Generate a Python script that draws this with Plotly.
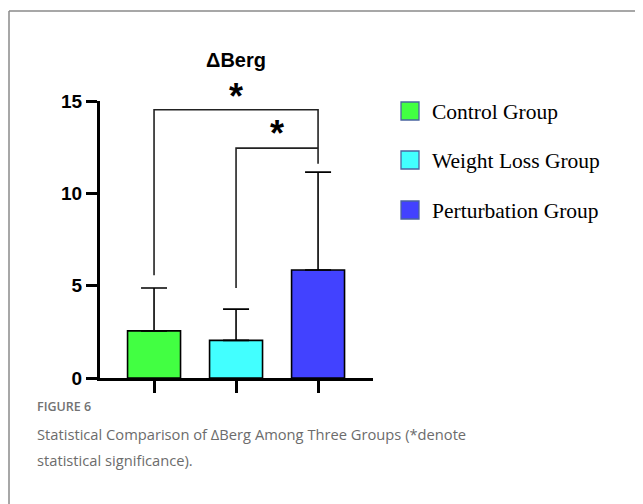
import plotly.graph_objects as go

# ---- data ----
groups = ["Control Group", "Weight Loss Group", "Perturbation Group"]
means = [2.55, 2.04, 5.85]
sd_upper = [2.32, 1.69, 5.30]
colors = ["#42FF42", "#42FFFF", "#4242FF"]
y_ticks = [0, 5, 10, 15]
title_text = "ΔBerg"
caption_label = "FIGURE 6"
caption_lines = ["Statistical Comparison of ΔBerg Among Three Groups (*denote",
                 "statistical significance)."]

W, H = 643, 504
OFF = 8  # page body margin offset
def px(x): return (x - OFF) / W
def py(y): return 1 - (y - OFF) / H

x_pos = list(range(len(groups)))

fig = go.Figure()
fig.add_trace(go.Bar(
    x=x_pos, y=means, width=0.646,
    marker=dict(color=colors, line=dict(color="black", width=1.6)),
    error_y=dict(type="data", symmetric=False, array=sd_upper,
                 arrayminus=[0] * len(means), color="black",
                 thickness=1.6, width=13),
    showlegend=False,
))

shapes = []
# significance brackets (Control vs Perturbation, Weight Loss vs Perturbation)
brackets = [(0, 2, 5.57, 14.53, 11.6), (1, 2, 4.87, 12.45, 12.45)]
for a, b, ya, ytop, yb in brackets:
    shapes.append(dict(type="path", xref="x", yref="y",
                       path=f"M {a},{ya} L {a},{ytop} L {b},{ytop} L {b},{yb}",
                       line=dict(color="#222", width=1.6)))

# frame lines
shapes.append(dict(type="line", xref="paper", yref="paper", x0=px(9), x1=1.0,
                   y0=py(11), y1=py(11), line=dict(color="#8a8a8a", width=1.5)))
shapes.append(dict(type="line", xref="paper", yref="paper", x0=px(9), x1=px(9),
                   y0=py(11), y1=0, line=dict(color="#8a8a8a", width=1.5)))

annotations = []
# stars
for xs, ys in [(1.0, 14.05), (1.5, 12.0)]:
    annotations.append(dict(x=xs, y=ys, xref="x", yref="y", text="*",
                            showarrow=False,
                            font=dict(family="Liberation Sans", size=36, color="black", weight="bold"),
                            yanchor="bottom"))
# title
annotations.append(dict(x=1.0, y=py(60), xref="x", yref="paper", text=title_text,
                        showarrow=False, yanchor="middle",
                        font=dict(family="Liberation Sans", size=20, color="black", weight="bold")))

# legend
leg_y = [111, 160, 210]
for g, c, yy in zip(groups, colors, leg_y):
    shapes.append(dict(type="rect", xref="paper", yref="paper",
                       x0=px(401), x1=px(419), y0=py(yy - 9), y1=py(yy + 9),
                       fillcolor=c, line=dict(color="#4a64a0", width=1.3)))
    annotations.append(dict(x=px(430), y=py(yy + 1), xref="paper", yref="paper", text=g,
                            xanchor="left", yanchor="middle", showarrow=False,
                            font=dict(family="Liberation Serif", size=21.5, color="black")))

# caption
annotations.append(dict(x=px(35), y=py(406), xref="paper", yref="paper", text=caption_label,
                        xanchor="left", yanchor="middle", showarrow=False,
                        font=dict(family="Open Sans", size=12.5, color="#727272", weight=600)))
for i, line in enumerate(caption_lines):
    annotations.append(dict(x=px(35), y=py(434 + 26 * i), xref="paper", yref="paper", text=line,
                            xanchor="left", yanchor="middle", showarrow=False, align="left",
                            font=dict(family="Open Sans", size=14.7, color="#6c6c6c")))

fig.update_layout(
    template="none",
    width=W, height=H, margin=dict(l=0, r=0, t=0, b=0, pad=0, autoexpand=False),
    paper_bgcolor="white", plot_bgcolor="white",
    shapes=shapes, annotations=annotations,
    xaxis=dict(domain=[px(100), px(373)], range=[-0.659, 2.67], automargin=False,
               showgrid=False, zeroline=False, showline=True, linecolor="black", linewidth=3,
               ticks="outside", ticklen=12, tickwidth=3, tickcolor="black",
               tickvals=x_pos, showticklabels=False),
    yaxis=dict(domain=[py(378), py(101)], range=[0, 15], automargin=False,
               showgrid=False, zeroline=False, showline=True, linecolor="black", linewidth=3,
               ticks="outside", ticklen=11, tickwidth=3, tickcolor="black",
               tickvals=y_ticks,
               tickfont=dict(family="Liberation Sans", size=19, color="black", weight="bold")),
)

fig.write_html("out.html")
